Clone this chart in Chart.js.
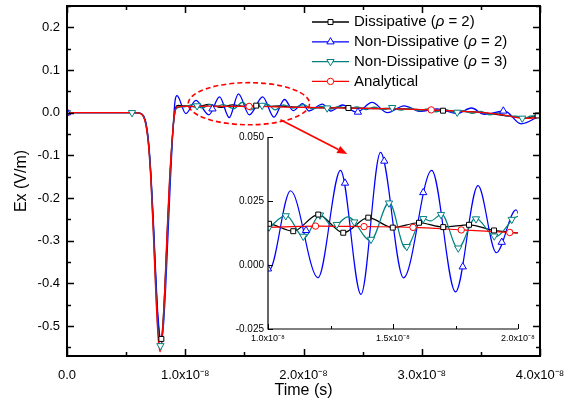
<!DOCTYPE html>
<html>
<head>
<meta charset="utf-8">
<script src="https://cdn.jsdelivr.net/npm/chart.js@4.4.1/dist/chart.umd.min.js"></script>
<style>
  html, body { margin: 0; padding: 0; background: #fff; }
  #wrap { position: relative; width: 570px; height: 404px; }
  #main { position: absolute; left: 0; top: 0; }
  #inset { position: absolute; left: 200px; top: 125px; }
</style>
</head>
<body>
<div id="wrap">
  <canvas id="main" width="570" height="404"></canvas>
  <canvas id="inset" width="340" height="225"></canvas>
</div>
<script>
// time in ns (labels are written in seconds), field in V/m
const xTicks = [0, 10, 20, 30, 40];
const xTickLabels = ['0.0', '1.0x10⁻⁸', '2.0x10⁻⁸', '3.0x10⁻⁸', '4.0x10⁻⁸'];
const xMinorTicks = [5, 15, 25, 35];
const yTicks = [-0.5, -0.4, -0.3, -0.2, -0.1, 0.0, 0.1, 0.2];
const yTickLabels = ['-0.5', '-0.4', '-0.3', '-0.2', '-0.1', '0.0', '0.1', '0.2'];
const yMinorTicks = [-0.55, -0.45, -0.35, -0.25, -0.15, -0.05, 0.05, 0.15, 0.25];

const insetXTicks = [10, 15, 20];
const insetXTickLabels = ['1.0x10⁻⁸', '1.5x10⁻⁸', '2.0x10⁻⁸'];
const insetXMinorTicks = [12.5, 17.5];
const insetYTicks = [-0.025, 0, 0.025, 0.05];
const insetYTickLabels = ['-0.025', '0.000', '0.025', '0.050'];

const seriesLabels = ['Dissipative', 'Non-Dissipative', 'Non-Dissipative', 'Analytical'];
const seriesRho = ['2', '2', '3', ''];

// Dissipative (rho = 2)
const tDiss = [0, 5.5, 6.0, 6.3, 6.5, 6.7, 6.9, 7.1, 7.3, 7.5, 7.7, 7.92, 8.1, 8.3, 8.5, 8.7, 8.9, 9.05, 9.2, 9.4,
  9.7, 10.04, 11.01, 12.01, 13.01, 14.01, 14.99, 16.04, 17.01, 18.04, 19.04, 20, 21, 22, 23, 23.8, 25, 26, 27, 28,
  29, 30, 31, 31.8, 33, 34, 35, 36, 37, 38, 38.8, 39.8, 40];
const eDiss = [0, 0, -0.0003, -0.003, -0.010, -0.030, -0.072, -0.150, -0.262, -0.389, -0.489, -0.535, -0.498, -0.397, -0.268, -0.150, -0.062, -0.015, 0.013, 0.0172,
  0.0162, 0.0161, 0.0132, 0.0197, 0.0126, 0.0185, 0.0146, 0.0165, 0.0148, 0.0157, 0.0135, 0.0125, 0.0118, 0.0112, 0.0122, 0.0110, 0.0105, 0.0095, 0.0098, 0.0092,
  0.0085, 0.0068, 0.0058, 0.0047, 0.0038, 0.0022, 0.0005, -0.0028, -0.0065, -0.0105, -0.0120, -0.0065, -0.0060];

// Non-Dissipative (rho = 2)
const tND2 = [0, 5.5, 6.0, 6.3, 6.5, 6.7, 6.9, 7.1, 7.3, 7.5, 7.7, 7.95, 8.15, 8.35, 8.55, 8.75, 8.92, 9.05, 9.15, 9.3,
  10.05, 10.9, 12.0, 12.9, 13.72, 14.5, 15.42, 16.55, 17.5, 18.4, 19.13, 19.92, 20.45, 21.6, 22.3, 23.3, 24.5, 25.8, 27.1, 28.5,
  29.9, 31.3, 33.0, 34.2, 35.3, 37.0, 38.4, 40.0];
const eND2 = [0, 0, -0.0003, -0.0025, -0.0085, -0.026, -0.068, -0.145, -0.250, -0.375, -0.480, -0.532, -0.500, -0.405, -0.280, -0.155, -0.060, 0.000, 0.030, 0.040,
  -0.002, 0.029, -0.005, 0.037, -0.0115, 0.044, -0.005, 0.037, -0.0105, 0.031, 0.0048, 0.0215, 0.004, 0.020, 0.004, 0.018, 0.001, 0.024, 0.000, 0.016,
  0.003, 0.009, -0.002, 0.011, -0.004, 0.004, -0.026, -0.007];

// Non-Dissipative (rho = 3)
const tND3 = [0, 5.5, 6.0, 6.3, 6.5, 6.7, 6.9, 7.1, 7.3, 7.5, 7.7, 7.9, 8.1, 8.3, 8.5, 8.7, 8.88, 9.05, 9.25, 9.6,
  10.0, 10.72, 11.45, 12.08, 12.6, 13.2, 14.1, 14.85, 15.5, 16.2, 16.5, 16.95, 17.6, 18.3, 19.1, 20.0, 20.75, 21.5, 22.25, 23.0,
  23.75, 24.5, 25.25, 26.0, 26.75, 27.5, 28.25, 29.0, 29.75, 30.5, 31.25, 32.0, 32.75, 33.5, 34.25, 35.0, 35.75, 36.5, 37.25, 38.0,
  38.6, 39.3, 40.0];
const eND3 = [0, 0, -0.0004, -0.003, -0.0105, -0.031, -0.076, -0.157, -0.274, -0.406, -0.512, -0.548, -0.512, -0.406, -0.274, -0.157, -0.070, -0.012, 0.010, 0.0135,
  0.0145, 0.0194, 0.0106, 0.0197, 0.0150, 0.0188, 0.0095, 0.0245, 0.0065, 0.0182, 0.0172, 0.0198, 0.0065, 0.0183, 0.0110, 0.0190, 0.0090, 0.0145, 0.0085, 0.0140,
  0.0082, 0.0135, 0.0075, 0.0128, 0.0070, 0.0120, 0.0062, 0.0108, 0.0042, 0.0090, 0.0022, 0.0072, 0.0005, 0.0050, -0.0015, 0.0030, -0.0050, -0.0010, -0.0085, -0.0080,
  -0.0140, -0.0075, -0.0090];

// Analytical
const tAna = [0, 5.5, 6.0, 6.3, 6.5, 6.7, 6.9, 7.1, 7.3, 7.5, 7.7, 7.88, 8.05, 8.25, 8.45, 8.65, 8.85, 9.0, 9.15, 9.35,
  9.97, 11.0, 11.9, 13.84, 15.8, 17.73, 19.67, 22, 24, 26, 28, 30, 32, 34, 35.5, 37, 38.4, 39.2, 40];
const eAna = [0, 0, -0.0004, -0.0034, -0.0115, -0.033, -0.079, -0.162, -0.282, -0.417, -0.524, -0.560, -0.528, -0.424, -0.289, -0.167, -0.078, -0.025, 0.006, 0.0135,
  0.0147, 0.0150, 0.0152, 0.0150, 0.0147, 0.0137, 0.0127, 0.0115, 0.0108, 0.0098, 0.0088, 0.0072, 0.0052, 0.0025, -0.0002, -0.0055, -0.0125, -0.0130, -0.0100];

// symbols on the main plot
const mDissT = [7.98, 16.0, 23.8, 31.8, 39.8];
const mDissE = [-0.530, 0.0166, 0.0110, 0.0047, -0.0065];
const mND2T = [0, 12.3, 24.6, 36.9];
const mND2E = [0, 0.009, 0.0015, 0.004];
const mND3T = [0, 5.5, 7.9, 11.0, 16.5, 22.0, 27.5, 33.0, 38.5];
const mND3E = [0, 0, -0.546, 0.016, 0.0172, 0.011, 0.012, 0.001, -0.013];
const mAnaT = [0, 15.4, 30.8];
const mAnaE = [0, 0.0148, 0.0066];

// symbols on the inset
const iDissT = [10.04, 11.01, 12.01, 13.01, 14.01, 14.99, 16.04, 17.01, 18.04, 19.04];
const iDissE = [0.0161, 0.0132, 0.0197, 0.0126, 0.0185, 0.0146, 0.0165, 0.0148, 0.0157, 0.0135];
const iND2T = [10.0, 11.52, 13.08, 14.65, 16.21, 17.79, 19.35];
const iND2E = [-0.0015, 0.0135, 0.032, 0.0406, 0.0283, -0.0007, 0.0089];
const iND3T = [10.04, 10.71, 11.41, 12.08, 12.75, 13.45, 14.12, 14.84, 15.55, 16.21, 16.92, 17.61, 18.32, 19.05, 19.75];
const iND3E = [0.0148, 0.0192, 0.0112, 0.0195, 0.0158, 0.0168, 0.0100, 0.0242, 0.0072, 0.0181, 0.0197, 0.0066, 0.0180, 0.0113, 0.0178];
const iAnaT = [9.97, 11.9, 13.84, 15.8, 17.73, 19.67];
const iAnaE = [0.0147, 0.0152, 0.0150, 0.0147, 0.0137, 0.0127];

// zoom highlight (data units)
const zoomEllipse = { t: 15.38, e: 0.0211, rt: 5.13, re: 0.0493 };
const zoomArrow = { t0: 18.05, e0: -0.0164, t1: 23.7, e1: -0.097 };

const colors = ['#000000', '#0000ff', '#008080', '#ff0000'];
const symbols = [
  { pointStyle: 'rect', rotation: 0, radius: 3.5 },
  { pointStyle: 'triangle', rotation: 0, radius: 4.2 },
  { pointStyle: 'triangle', rotation: 180, radius: 4.2 },
  { pointStyle: 'circle', rotation: 0, radius: 3.2 }
];
const drawOrder = [4, 3, 2, 1];

Chart.defaults.font.family = '"Liberation Sans", Arial, sans-serif';
Chart.defaults.color = '#000';

const pts = (t, e) => t.map((x, i) => ({ x: x, y: e[i] }));

function lineSet(i, t, e, width) {
  return {
    data: pts(t, e),
    borderColor: colors[i],
    borderWidth: width,
    pointRadius: 0,
    cubicInterpolationMode: 'monotone',
    order: drawOrder[i]
  };
}

function markSet(i, t, e) {
  return {
    data: pts(t, e),
    showLine: false,
    pointStyle: symbols[i].pointStyle,
    rotation: symbols[i].rotation,
    pointRadius: symbols[i].radius,
    pointBorderColor: colors[i],
    pointBackgroundColor: '#ffffff',
    pointBorderWidth: 1,
    order: 0
  };
}

// Origin-style frame with inward ticks
const axesPlugin = {
  id: 'originAxes',
  afterDraw(chart, args, o) {
    const { ctx, chartArea: a, scales: { x, y } } = chart;
    ctx.save();
    ctx.strokeStyle = '#000';
    ctx.lineWidth = o.lineWidth;
    ctx.beginPath();
    if (o.box) {
      ctx.rect(a.left, a.top, a.right - a.left, a.bottom - a.top);
    } else {
      ctx.moveTo(a.left, a.top);
      ctx.lineTo(a.left, a.bottom);
      ctx.lineTo(a.right, a.bottom);
    }
    ctx.stroke();

    ctx.lineWidth = o.tickWidth;
    ctx.beginPath();
    const xt = (vals, len) => vals.forEach(v => {
      const px = Math.round(x.getPixelForValue(v)) + 0.5;
      ctx.moveTo(px, a.bottom); ctx.lineTo(px, a.bottom - len);
      if (o.box) { ctx.moveTo(px, a.top); ctx.lineTo(px, a.top + len); }
    });
    const yt = (vals, len) => vals.forEach(v => {
      const py = Math.round(y.getPixelForValue(v)) + 0.5;
      ctx.moveTo(a.left, py); ctx.lineTo(a.left + len, py);
      if (o.box) { ctx.moveTo(a.right, py); ctx.lineTo(a.right - len, py); }
    });
    xt(o.xMajor, o.major); xt(o.xMinor, o.minor);
    yt(o.yMajor, o.major); yt(o.yMinor, o.minor);
    ctx.stroke();
    ctx.restore();
  }
};

// legend: short line with symbol, then the label with an italic rho
const legendPlugin = {
  id: 'originLegend',
  afterDraw(chart) {
    const ctx = chart.ctx;
    const x0 = 312, x1 = 349, tx = 354, top = 22, step = 19.8;
    ctx.save();
    ctx.textBaseline = 'middle';
    seriesLabels.forEach((label, i) => {
      const y = top + i * step;
      ctx.strokeStyle = colors[i];
      ctx.lineWidth = 1.3;
      ctx.beginPath();
      ctx.moveTo(x0, y); ctx.lineTo(x1, y);
      ctx.stroke();
      ctx.fillStyle = '#fff';
      ctx.lineWidth = 1;
      Chart.helpers.drawPoint(ctx, { pointStyle: symbols[i].pointStyle, rotation: symbols[i].rotation, radius: symbols[i].radius, borderWidth: 1 }, (x0 + x1) / 2, y);
      ctx.fillStyle = '#000';
      const regular = '15px "Liberation Sans", Arial, sans-serif';
      const italic = 'italic 15px "Liberation Sans", Arial, sans-serif';
      let cx = tx;
      const part = (s, f) => { ctx.font = f; ctx.fillText(s, cx, y); cx += ctx.measureText(s).width; };
      if (seriesRho[i]) {
        part(label + ' (', regular);
        part('ρ', italic);
        part(' = ' + seriesRho[i] + ')', regular);
      } else {
        part(label, regular);
      }
    });
    ctx.restore();
  }
};

// dashed red ellipse and arrow pointing to the inset
const zoomPlugin = {
  id: 'zoomMark',
  afterDatasetsDraw(chart) {
    const { ctx, scales: { x, y } } = chart;
    const cx = x.getPixelForValue(zoomEllipse.t), cy = y.getPixelForValue(zoomEllipse.e);
    const rx = x.getPixelForValue(zoomEllipse.t + zoomEllipse.rt) - cx;
    const ry = cy - y.getPixelForValue(zoomEllipse.e + zoomEllipse.re);
    ctx.save();
    ctx.strokeStyle = '#ff0000';
    ctx.lineWidth = 1.6;
    ctx.setLineDash([5, 3]);
    ctx.beginPath();
    ctx.ellipse(cx, cy, rx, ry, 0, 0, Math.PI * 2);
    ctx.stroke();
    ctx.setLineDash([]);
    const ax0 = x.getPixelForValue(zoomArrow.t0), ay0 = y.getPixelForValue(zoomArrow.e0);
    const ax1 = x.getPixelForValue(zoomArrow.t1), ay1 = y.getPixelForValue(zoomArrow.e1);
    const ang = Math.atan2(ay1 - ay0, ax1 - ax0);
    const hl = 10, hw = 4;
    const bx = ax1 - hl * Math.cos(ang), by = ay1 - hl * Math.sin(ang);
    ctx.beginPath();
    ctx.moveTo(ax0, ay0); ctx.lineTo(bx, by);
    ctx.stroke();
    ctx.fillStyle = '#ff0000';
    ctx.beginPath();
    ctx.moveTo(ax1, ay1);
    ctx.lineTo(bx + hw * Math.sin(ang), by - hw * Math.cos(ang));
    ctx.lineTo(bx - hw * Math.sin(ang), by + hw * Math.cos(ang));
    ctx.closePath();
    ctx.fill();
    ctx.restore();
  }
};

// fixed axis boxes, no extra label padding, so the plot area lands where wanted
const fixX = h => s => { s.height = h; s.paddingLeft = 0; s.paddingRight = 0; };
const fixY = w => s => { s.width = w; s.paddingTop = 0; s.paddingBottom = 0; };

new Chart(document.getElementById('main'), {
  type: 'line',
  data: {
    datasets: [
      lineSet(0, tDiss, eDiss, 1.3), lineSet(1, tND2, eND2, 1.3),
      lineSet(2, tND3, eND3, 1.3), lineSet(3, tAna, eAna, 1.3),
      markSet(0, mDissT, mDissE), markSet(1, mND2T, mND2E),
      markSet(2, mND3T, mND3E), markSet(3, mAnaT, mAnaE)
    ]
  },
  options: {
    responsive: false,
    animation: false,
    events: [],
    layout: { padding: { left: 7, right: 30, top: 6, bottom: 4 } },
    plugins: {
      legend: { display: false },
      tooltip: { enabled: false },
      originAxes: { box: true, lineWidth: 2, tickWidth: 1.5, major: 7, minor: 4,
        xMajor: xTicks, xMinor: xMinorTicks, yMajor: yTicks, yMinor: yMinorTicks }
    },
    scales: {
      x: {
        type: 'linear', min: 0, max: 40,
        grid: { display: false, drawTicks: false },
        border: { display: false },
        afterBuildTicks: s => { s.ticks = xTicks.map(v => ({ value: v })); },
        afterFit: fixX(44),
        ticks: { padding: 12, font: { size: 13 }, maxRotation: 0, autoSkip: false,
          callback: (v, i) => xTickLabels[i] },
        title: { display: true, text: 'Time (s)', font: { size: 16 }, padding: 0 }
      },
      y: {
        type: 'linear', min: -0.57, max: 0.25,
        grid: { display: false, drawTicks: false },
        border: { display: false },
        afterBuildTicks: s => { s.ticks = yTicks.map(v => ({ value: v })); },
        afterFit: fixY(60),
        ticks: { padding: 7, font: { size: 13 }, autoSkip: false,
          callback: (v, i) => yTickLabels[i] },
        title: { display: true, text: 'Ex (V/m)', font: { size: 16 }, padding: { top: 5 } }
      }
    }
  },
  plugins: [zoomPlugin, axesPlugin, legendPlugin]
});

new Chart(document.getElementById('inset'), {
  type: 'line',
  data: {
    datasets: [
      lineSet(0, tDiss, eDiss, 1.2), lineSet(1, tND2, eND2, 1.2),
      lineSet(2, tND3, eND3, 1.2), lineSet(3, tAna, eAna, 1.2),
      markSet(0, iDissT, iDissE), markSet(1, iND2T, iND2E),
      markSet(2, iND3T, iND3E), markSet(3, iAnaT, iAnaE)
    ]
  },
  options: {
    responsive: false,
    animation: false,
    events: [],
    layout: { padding: { left: 18, right: 22, top: 12, bottom: 3 } },
    plugins: {
      legend: { display: false },
      tooltip: { enabled: false },
      originAxes: { box: false, lineWidth: 1.2, tickWidth: 1, major: 5, minor: 3,
        xMajor: insetXTicks, xMinor: insetXMinorTicks, yMajor: insetYTicks, yMinor: [] }
    },
    scales: {
      x: {
        type: 'linear', min: 10, max: 20,
        grid: { display: false, drawTicks: false },
        border: { display: false },
        afterBuildTicks: s => { s.ticks = insetXTicks.map(v => ({ value: v })); },
        afterFit: fixX(18),
        ticks: { padding: 4, font: { size: 9 }, maxRotation: 0, autoSkip: false,
          callback: (v, i) => insetXTickLabels[i] }
      },
      y: {
        type: 'linear', min: -0.025, max: 0.05,
        grid: { display: false, drawTicks: false },
        border: { display: false },
        afterBuildTicks: s => { s.ticks = insetYTicks.map(v => ({ value: v })); },
        afterFit: fixY(50),
        ticks: { padding: 4, font: { size: 10 }, autoSkip: false,
          callback: (v, i) => insetYTickLabels[i] }
      }
    }
  },
  plugins: [axesPlugin]
});
</script>
</body>
</html>
